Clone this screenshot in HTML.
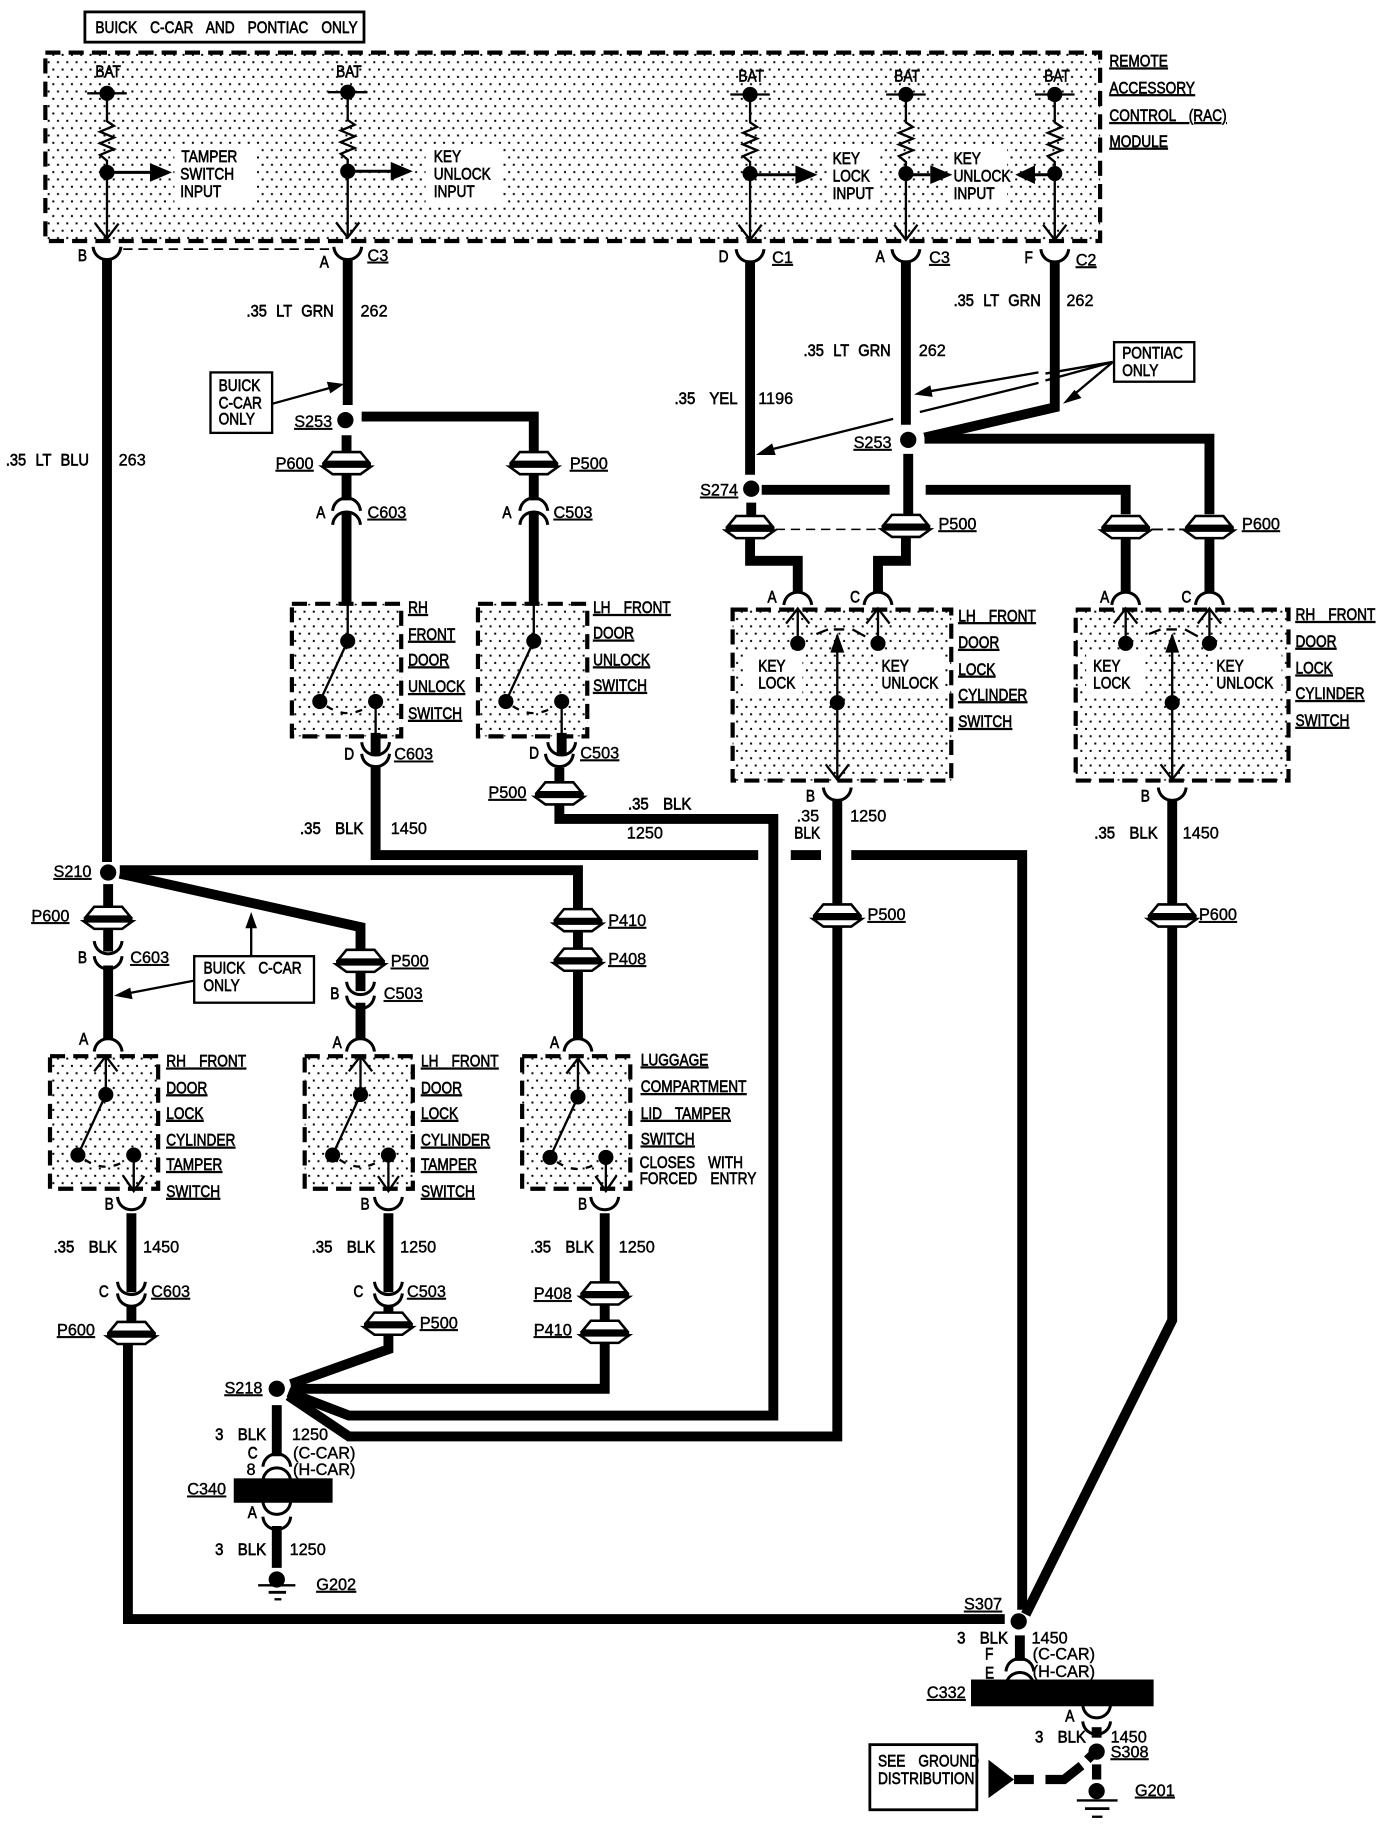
<!DOCTYPE html>
<html><head><meta charset="utf-8"><style>
html,body{margin:0;padding:0;background:#fff}
svg{display:block}
text{font-family:"Liberation Sans",sans-serif;font-size:14px;fill:#000;stroke:#000;stroke-width:.55;word-spacing:9.5px;transform-box:fill-box;transform-origin:0 50%;transform:scaleX(.84)}
text.n{transform:none;word-spacing:0;stroke-width:.35}
text.m{transform:scaleX(.92)}
text.k{transform:scaleX(.9);word-spacing:5px}
.u{text-decoration:underline;text-decoration-thickness:1.6px;text-underline-offset:3px}
.w{fill:none;stroke:#000;stroke-width:8.5;stroke-linejoin:miter}
.t{fill:none;stroke:#000;stroke-width:2}
.d{fill:url(#dots);stroke:#000;stroke-width:3.6;stroke-dasharray:13 7}
</style></head><body>
<svg width="1392" height="1824" viewBox="0 0 1197 1568" xmlns="http://www.w3.org/2000/svg">
<defs>
<pattern id="dots" patternUnits="userSpaceOnUse" width="8" height="12.6">
<rect x="1" y="2" width="1.7" height="1.7" fill="#000"/>
<rect x="5" y="8.3" width="1.7" height="1.7" fill="#000"/>
</pattern>
<g id="p">
<path d="M-19,-1L-12,-9.5H12L19,-1Z" fill="#fff" stroke="#000" stroke-width="2.2"/>
<path d="M-21,3L-12,9.5H12L21,3Z" fill="#fff" stroke="#000" stroke-width="2.2"/>
<path d="M-21,1H21" stroke="#000" stroke-width="3"/>
</g>
<path id="cd" d="M-12,-5C-11,3 -5,6 0,6C5,6 11,3 12,-5" fill="none" stroke="#000" stroke-width="2.6"/>
<path id="cu" d="M-12,5C-11,-3 -5,-6 0,-6C5,-6 11,-3 12,5" fill="none" stroke="#000" stroke-width="2.6"/>
<g id="bat">
<path d="M-17,0H17" stroke="#000" stroke-width="2"/><circle r="6.5" fill="#000"/>
<path d="M0,0V24L6,28L-6,33L6,38L-6,43L6,48L-6,53L0,58V125" class="t"/>
<circle cy="68" r="6.5" fill="#000"/>
<path d="M-10,112L0,125L10,112" class="t"/>
</g>
<g id="sw">
<circle cx="0" cy="0" r="6.5" fill="#000"/>
<circle cx="-24" cy="52" r="6.5" fill="#000"/>
<circle cx="24" cy="52" r="6.5" fill="#000"/>
<path d="M0,0L-24,52" class="t" stroke-width="2.4"/>
<path d="M-18,56Q0,68 18,56" fill="none" stroke="#000" stroke-width="2" stroke-dasharray="6 7"/>
</g>
<path id="up" d="M0,-3V-30M-10,-17L0,-30L10,-17" class="t"/>
<path id="ah" d="M-17,-8L2,0L-17,8Z" fill="#000"/>
</defs>

<rect width="1197" height="1568" fill="#fff"/>

<!-- top label -->
<rect x="73" y="10" width="240" height="26" fill="#fff" stroke="#000" stroke-width="2.4"/>
<text x="82" y="28">BUICK C-CAR AND PONTIAC ONLY</text>

<!-- module -->
<rect x="39" y="45" width="907" height="162" class="d"/>
<rect x="150" y="124" width="71" height="52" fill="#fff"/>
<rect x="366" y="124" width="66" height="52" fill="#fff"/>
<rect x="712" y="124" width="45" height="52" fill="#fff"/>
<rect x="816" y="124" width="50" height="52" fill="#fff"/>
<use href="#bat" x="92" y="80"/><use href="#bat" x="299" y="79"/><use href="#bat" x="645" y="81"/><use href="#bat" x="779" y="81"/><use href="#bat" x="907" y="81"/>
<text x="82" y="66">BAT</text><text x="289" y="66">BAT</text><text x="635" y="70">BAT</text><text x="769" y="70">BAT</text><text x="898" y="70">BAT</text>
<path d="M92,148H137M299,147H344M645,150H692M779,150H800M907,150H882" stroke="#000" stroke-width="2.6"/>
<use href="#ah" x="146" y="148"/><use href="#ah" x="353" y="147"/><use href="#ah" x="701" y="150"/><use href="#ah" x="817" y="150"/>
<path d="M873,150L890,142V158Z" fill="#000"/>
<text x="156" y="139">TAMPER</text><text x="155" y="154">SWITCH</text><text x="155" y="169">INPUT</text>
<text x="373" y="139">KEY</text><text x="373" y="154">UNLOCK</text><text x="373" y="169">INPUT</text>
<text x="716" y="141">KEY</text><text x="716" y="156">LOCK</text><text x="716" y="171">INPUT</text>
<text x="820" y="141">KEY</text><text x="820" y="156">UNLOCK</text><text x="820" y="171">INPUT</text>
<text x="954" y="57" class="u">REMOTE</text><text x="954" y="80" class="u">ACCESSORY</text><text x="954" y="104" class="u">CONTROL (RAC)</text><text x="954" y="126" class="u">MODULE</text>

<!-- module connectors -->
<use href="#cd" x="92" y="217"/><use href="#cd" x="299" y="217"/><use href="#cd" x="645" y="219"/><use href="#cd" x="779" y="219"/><use href="#cd" x="907" y="219"/>
<path d="M106,214H285" stroke="#000" stroke-width="1.5" stroke-dasharray="8 5"/>
<text x="67" y="224">B</text><text x="275" y="230">A</text><text x="316" y="224" class="u n">C3</text>
<text x="618" y="225">D</text><text x="664" y="226" class="u n">C1</text><text x="753" y="225">A</text><text x="799" y="226" class="u n">C3</text><text x="881" y="226">F</text><text x="925" y="228" class="u n">C2</text>

<!-- thick wires -->
<g class="w">
<path d="M92,222V741"/>
<path d="M299,222V348"/>
<path d="M311,358H459V390"/>
<path d="M298,374V390M298,408V430M298,441V518"/>
<path d="M459,408V430M459,441V518"/>
<path d="M645,224V408M646,432V445"/>
<path d="M779,224V365M781,390V442"/>
<path d="M795,376L907,350V224"/>
<path d="M795,377H1040V442"/>
<path d="M655,421H765M796,421H968V442"/>
<path d="M645,462V482H686V510"/>
<path d="M779,462V482H755V510"/>
<path d="M968,462V510M1040,462V510"/>
<path d="M720,687V777M720,797V1235H300L248,1200"/>
<path d="M1008,687V777M1008,797V1135L882,1388"/>
<path d="M323,630V650M323,658V735H652M680,735H706M732,735H879V1384"/>
<path d="M483,630V650M481,660V672M481,692V704H665V1217H300L248,1197"/>
<path d="M103,748H497V781M497,801V815M497,835V893"/>
<path d="M103,751L310,797V816M310,836V852M310,862V893"/>
<path d="M93,760V779M93,799V818M93,830V893"/>
<path d="M113,1043V1111M113,1122V1136M110,1156V1392H864"/>
<path d="M334,1043V1111M334,1122V1128M334,1148V1160L250,1190"/>
<path d="M520,1043V1102M520,1122V1135M520,1155V1194H250"/>
<path d="M238,1208V1252M238,1312V1348"/>
<path d="M877,1406V1428"/>
<path d="M943,1485V1494"/>
</g>

<!-- dots -->
<g fill="#000">
<circle cx="93" cy="750" r="7"/><circle cx="297" cy="361" r="7"/><circle cx="781" cy="378" r="7"/><circle cx="646" cy="420" r="7"/>
<circle cx="238" cy="1194" r="7"/><circle cx="876" cy="1394" r="7"/><circle cx="943" cy="1506" r="7"/><circle cx="943" cy="1540" r="7"/><circle cx="238" cy="1358" r="7"/>
</g>
<text x="253" y="367" class="u n">S253</text><text x="734" y="385" class="u n">S253</text><text x="602" y="426" class="u n">S274</text><text x="46" y="754" class="u n">S210</text><text x="193" y="1198" class="u n">S218</text><text x="829" y="1384" class="u n">S307</text>

<!-- pass-throughs -->
<use href="#p" x="298" y="398"/><use href="#p" x="459" y="398"/>
<use href="#p" x="645" y="453"/><use href="#p" x="779" y="452"/><use href="#p" x="968" y="453"/><use href="#p" x="1040" y="453"/>
<use href="#p" x="481" y="682"/><use href="#p" x="720" y="787"/><use href="#p" x="1008" y="787"/>
<use href="#p" x="93" y="789"/><use href="#p" x="310" y="826"/><use href="#p" x="497" y="791"/><use href="#p" x="497" y="825"/>
<use href="#p" x="113" y="1146"/><use href="#p" x="334" y="1138"/><use href="#p" x="520" y="1112"/><use href="#p" x="520" y="1145"/>
<path d="M667,455H758" stroke="#000" stroke-width="1.3" stroke-dasharray="8 5" fill="none"/>
<path d="M990,455H1000M1004,455H1010M1014,455H1024" stroke="#000" stroke-width="1.6" fill="none"/>
<text x="237" y="403" class="u n">P600</text><text x="490" y="403" class="u n">P500</text>
<text x="807" y="455" class="u n">P500</text><text x="1068" y="455" class="u n">P600</text>
<text x="420" y="686" class="u n">P500</text><text x="746" y="791" class="u n">P500</text><text x="1031" y="791" class="u n">P600</text>
<text x="27" y="792" class="u n">P600</text><text x="336" y="831" class="u n">P500</text><text x="523" y="796" class="u n">P410</text><text x="523" y="829" class="u n">P408</text>
<text x="49" y="1148" class="u n">P600</text><text x="361" y="1142" class="u n">P500</text><text x="459" y="1117" class="u n">P408</text><text x="459" y="1148" class="u n">P410</text>

<!-- switch boxes -->
<rect x="251" y="519" width="94" height="114" class="d"/>
<rect x="411" y="519" width="94" height="114" class="d"/>
<rect x="43" y="908" width="93" height="114" class="d"/>
<rect x="262" y="908" width="93" height="114" class="d"/>
<rect x="449" y="908" width="93" height="114" class="d"/>
<rect x="630" y="524" width="188" height="147" class="d"/>
<rect x="925" y="524" width="183" height="147" class="d"/>
<rect x="639" y="562" width="51" height="34" fill="#fff"/><rect x="755" y="562" width="56" height="34" fill="#fff"/>
<rect x="934" y="562" width="51" height="34" fill="#fff"/><rect x="1044" y="562" width="58" height="34" fill="#fff"/>

<use href="#sw" x="299" y="551"/><path d="M299,518V551M323,603V640" class="t"/>
<use href="#sw" x="459" y="551"/><path d="M459,518V551M483,603V640" class="t"/>
<use href="#sw" x="91" y="941"/><path d="M115,993V1022M106,1011L115,1024L124,1011" class="t"/><use href="#up" x="91" y="938"/>
<use href="#sw" x="310" y="941"/><path d="M334,993V1022M325,1011L334,1024L343,1011" class="t"/><use href="#up" x="310" y="938"/>
<use href="#sw" x="497" y="943"/><path d="M521,995V1022M512,1011L521,1024L530,1011" class="t"/><use href="#up" x="497" y="940"/>

<g>
<circle cx="686" cy="553" r="6.5" fill="#000"/><circle cx="755" cy="553" r="6.5" fill="#000"/><circle cx="720" cy="604" r="6.5" fill="#000"/>
<use href="#up" x="686" y="553"/><use href="#up" x="755" y="553"/>
<path d="M720,546V670M710,657L720,670L730,657" class="t"/><path d="M720,544L714,561H726Z" fill="#000"/>
<path d="M702,545L712,541M717,541H726M733,541L744,547" class="t"/>
<circle cx="968" cy="553" r="6.5" fill="#000"/><circle cx="1040" cy="553" r="6.5" fill="#000"/><circle cx="1008" cy="604" r="6.5" fill="#000"/>
<use href="#up" x="968" y="553"/><use href="#up" x="1040" y="553"/>
<path d="M1008,546V670M998,657L1008,670L1018,657" class="t"/><path d="M1008,544L1002,561H1014Z" fill="#000"/>
<path d="M988,545L998,541M1003,541H1012M1019,541L1030,547" class="t"/>
</g>
<text x="652" y="577">KEY</text><text x="652" y="592">LOCK</text><text x="758" y="577">KEY</text><text x="758" y="592">UNLOCK</text>
<text x="940" y="577">KEY</text><text x="940" y="592">LOCK</text><text x="1046" y="577">KEY</text><text x="1046" y="592">UNLOCK</text>

<text x="351" y="527" class="u">RH</text><text x="351" y="550" class="u">FRONT</text><text x="351" y="572" class="u">DOOR</text><text x="351" y="595" class="u">UNLOCK</text><text x="351" y="618" class="u">SWITCH</text>
<text x="510" y="527" class="u">LH FRONT</text><text x="510" y="549" class="u">DOOR</text><text x="510" y="572" class="u">UNLOCK</text><text x="510" y="594" class="u">SWITCH</text>
<text x="824" y="534" class="u">LH FRONT</text><text x="824" y="557" class="u">DOOR</text><text x="824" y="580" class="u">LOCK</text><text x="824" y="602" class="u">CYLINDER</text><text x="824" y="625" class="u">SWITCH</text>
<text x="1114" y="533" class="u">RH FRONT</text><text x="1114" y="556" class="u">DOOR</text><text x="1114" y="579" class="u">LOCK</text><text x="1114" y="601" class="u">CYLINDER</text><text x="1114" y="624" class="u">SWITCH</text>
<text x="143" y="917" class="u">RH FRONT</text><text x="143" y="940" class="u">DOOR</text><text x="143" y="962" class="u">LOCK</text><text x="143" y="985" class="u">CYLINDER</text><text x="143" y="1006" class="u">TAMPER</text><text x="143" y="1029" class="u">SWITCH</text>
<text x="362" y="917" class="u">LH FRONT</text><text x="362" y="940" class="u">DOOR</text><text x="362" y="962" class="u">LOCK</text><text x="362" y="985" class="u">CYLINDER</text><text x="362" y="1006" class="u">TAMPER</text><text x="362" y="1029" class="u">SWITCH</text>
<text x="551" y="916" class="u">LUGGAGE</text><text x="551" y="939" class="u">COMPARTMENT</text><text x="551" y="962" class="u">LID TAMPER</text><text x="551" y="984" class="u">SWITCH</text><text x="550" y="1004">CLOSES WITH</text><text x="550" y="1018">FORCED ENTRY</text>

<!-- inline connectors -->
<use href="#cu" x="298" y="434"/><use href="#cu" x="298" y="446"/>
<use href="#cu" x="459" y="434"/><use href="#cu" x="459" y="446"/>
<text x="272" y="445">A</text><text x="316" y="445" class="u n">C603</text><text x="432" y="445">A</text><text x="476" y="445" class="u n">C503</text>
<use href="#cd" x="323" y="643"/><use href="#cd" x="323" y="653"/><use href="#cd" x="483" y="643"/><use href="#cd" x="481" y="653"/>
<text x="296" y="653">D</text><text x="339" y="653" class="u n">C603</text><text x="455" y="652">D</text><text x="499" y="652" class="u n">C503</text>
<use href="#cu" x="686" y="515"/><use href="#cu" x="755" y="515"/><use href="#cu" x="968" y="515"/><use href="#cu" x="1040" y="515"/>
<text x="660" y="518">A</text><text x="731" y="518">C</text><text x="946" y="518">A</text><text x="1016" y="518">C</text>
<use href="#cd" x="720" y="682"/><use href="#cd" x="1008" y="682"/>
<text x="693" y="689">B</text><text x="981" y="689">B</text>

<use href="#cd" x="93" y="814"/><use href="#cd" x="93" y="827"/>
<text x="67" y="828">B</text><text x="112" y="828" class="u n">C603</text>
<use href="#cd" x="310" y="849"/><use href="#cd" x="310" y="861"/>
<text x="284" y="859">B</text><text x="330" y="859" class="u n">C503</text>
<use href="#cu" x="93" y="899"/><use href="#cu" x="310" y="899"/><use href="#cu" x="497" y="899"/>
<text x="68" y="898">A</text><text x="286" y="901">A</text><text x="473" y="901">A</text>
<use href="#cd" x="113" y="1034"/><use href="#cd" x="334" y="1034"/><use href="#cd" x="520" y="1034"/>
<text x="90" y="1040">B</text><text x="310" y="1040">B</text><text x="497" y="1040">B</text>
<use href="#cd" x="113" y="1107"/><use href="#cd" x="113" y="1117"/><use href="#cd" x="334" y="1107"/><use href="#cd" x="334" y="1117"/>
<text x="85" y="1115">C</text><text x="130" y="1115" class="u n">C603</text><text x="304" y="1115">C</text><text x="350" y="1115" class="u n">C503</text>

<!-- wire labels -->
<text x="5" y="400" class="k">.35 LT BLU</text><text x="102" y="400" class="n">263</text>
<text x="212" y="272" class="k">.35 LT GRN</text><text x="310" y="272" class="n">262</text>
<text x="820" y="263" class="k">.35 LT GRN</text><text x="917" y="263" class="n">262</text>
<text x="691" y="306" class="k">.35 LT GRN</text><text x="790" y="306" class="n">262</text>
<text x="580" y="347" class="m">.35 YEL</text><text x="652" y="347" class="n">1196</text>
<text x="258" y="717" class="m">.35 BLK</text><text x="336" y="717" class="n">1450</text>
<text x="540" y="696" class="m">.35 BLK</text><text x="539" y="721" class="n">1250</text>
<text x="685" y="706" class="n">.35</text><text x="683" y="721">BLK</text><text x="731" y="706" class="n">1250</text>
<text x="941" y="721" class="m">.35 BLK</text><text x="1017" y="721" class="n">1450</text>
<text x="46" y="1077" class="m">.35 BLK</text><text x="123" y="1077" class="n">1450</text>
<text x="268" y="1077" class="m">.35 BLK</text><text x="344" y="1077" class="n">1250</text>
<text x="456" y="1077" class="m">.35 BLK</text><text x="532" y="1077" class="n">1250</text>

<!-- callouts -->
<rect x="181" y="320" width="53" height="52" fill="#fff" stroke="#000" stroke-width="2"/>
<text x="188" y="336">BUICK</text><text x="188" y="351">C-CAR</text><text x="188" y="365">ONLY</text>
<path d="M234,347L285,333" class="t"/><path d="M296,330L281,328L284,338Z" fill="#000"/>
<rect x="958" y="294" width="69" height="34" fill="#fff" stroke="#000" stroke-width="2"/>
<text x="965" y="308">PONTIAC</text><text x="965" y="323">ONLY</text>
<path d="M957,311L899,321M957,311L899,327M893,320L795,337M893,329L791,354M768,360L660,387M957,311L920,342" stroke="#000" stroke-width="2" fill="none"/>
<path d="M786,339L800,331L802,341Z" fill="#000"/><path d="M650,391L664,381L667,391Z" fill="#000"/><path d="M914,347L924,335L930,342Z" fill="#000"/>
<rect x="167" y="822" width="103" height="40" fill="#fff" stroke="#000" stroke-width="2"/>
<text x="175" y="837">BUICK C-CAR</text><text x="175" y="852">ONLY</text>
<path d="M167,843L110,854" class="t"/><path d="M98,856L112,849L114,859Z" fill="#000"/>
<path d="M216,822V796" class="t"/><path d="M216,784L211,798H221Z" fill="#000"/>

<!-- C340 -->
<use href="#cu" x="238" y="1256"/><use href="#cu" x="238" y="1268"/>
<rect x="201" y="1271" width="85" height="21" fill="#000"/>
<use href="#cd" x="238" y="1296"/><use href="#cd" x="238" y="1309"/>
<text x="185" y="1238" class="m">3 BLK</text><text x="251" y="1238" class="n">1250</text><text x="213" y="1254">C</text><text x="212" y="1268" class="n">8</text>
<text x="252" y="1254" class="n">(C-CAR)</text><text x="252" y="1268" class="n">(H-CAR)</text>
<text x="161" y="1285" class="u n">C340</text><text x="213" y="1305">A</text>
<text x="185" y="1337" class="m">3 BLK</text><text x="249" y="1337" class="n">1250</text>
<path d="M222,1363H254" stroke="#000" stroke-width="2"/><path d="M231,1369H246" stroke="#000" stroke-width="2.4"/><path d="M236,1375H242" stroke="#000" stroke-width="2"/>
<text x="272" y="1367" class="u n">G202</text>

<!-- C332 -->
<use href="#cu" x="877" y="1432"/><use href="#cu" x="877" y="1444"/>
<rect x="835" y="1444" width="157" height="23" fill="#000"/>
<use href="#cd" x="943" y="1471"/><use href="#cd" x="943" y="1485"/>
<text x="823" y="1413" class="m">3 BLK</text><text x="887" y="1413" class="n">1450</text>
<text x="847" y="1427">F</text><text x="847" y="1443">E</text><text x="888" y="1427" class="n">(C-CAR)</text><text x="888" y="1442" class="n">(H-CAR)</text>
<text x="797" y="1460" class="u n">C332</text><text x="916" y="1480">A</text>
<text x="890" y="1498" class="m">3 BLK</text><text x="955" y="1498" class="n">1450</text><text x="955" y="1511" class="u n">S308</text><text x="976" y="1544" class="u n">G201</text>
<rect x="748" y="1500" width="92" height="56" fill="#fff" stroke="#000" stroke-width="2.4"/>
<text x="755" y="1519">SEE GROUND</text><text x="755" y="1534">DISTRIBUTION</text>
<path d="M850,1513L872,1530L850,1546Z" fill="#000"/>
<path d="M872,1530H889M899,1530H915L930,1518M935,1513L939,1509M943,1517V1530" fill="none" stroke="#000" stroke-width="8"/>
<path d="M926,1548H961" stroke="#000" stroke-width="2"/><path d="M933,1555H954" stroke="#000" stroke-width="2.4"/><path d="M939,1562H948" stroke="#000" stroke-width="2"/>
</svg>
</body></html>
